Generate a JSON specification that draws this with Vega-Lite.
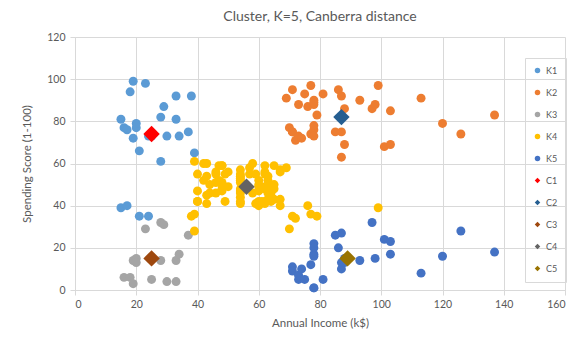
{
  "$schema": "https://vega.github.io/schema/vega-lite/v6.json",
  "autosize": {"type": "none"},
  "width": 490,
  "height": 253,
  "padding": {"left": 75, "top": 37, "right": 11, "bottom": 50},
  "background": "white",
  "title": {"text": "Cluster, K=5, Canberra distance", "font": "Lato", "fontSize": 14, "fontWeight": "normal", "color": "#595959", "anchor": "middle", "offset": 8},
  "config": {
    "view": {"stroke": null},
    "axis": {"labelFont": "Lato", "titleFont": "Lato", "labelColor": "#595959", "titleColor": "#595959", "labelFontSize": 10.5, "titleFontSize": 11.5, "titleFontWeight": "normal", "gridColor": "#D9D9D9", "domainColor": "#D9D9D9", "tickColor": "#D9D9D9", "tickSize": 5},
    "legend": {"labelFont": "Lato", "labelColor": "#595959"}
  },
  "datasets": {
    "pts": [
      {"x":15,"y":39,"s":"K1"},{"x":15,"y":81,"s":"K1"},{"x":16,"y":77,"s":"K1"},{"x":17,"y":40,"s":"K1"},{"x":17,"y":76,"s":"K1"},{"x":18,"y":94,"s":"K1"},{"x":19,"y":72,"s":"K1"},{"x":19,"y":99,"s":"K1"},{"x":20,"y":77,"s":"K1"},{"x":20,"y":79,"s":"K1"},{"x":21,"y":35,"s":"K1"},{"x":21,"y":66,"s":"K1"},{"x":23,"y":98,"s":"K1"},{"x":24,"y":35,"s":"K1"},{"x":24,"y":73,"s":"K1"},{"x":25,"y":73,"s":"K1"},{"x":28,"y":82,"s":"K1"},{"x":28,"y":61,"s":"K1"},{"x":29,"y":87,"s":"K1"},{"x":30,"y":73,"s":"K1"},{"x":33,"y":92,"s":"K1"},{"x":33,"y":81,"s":"K1"},{"x":34,"y":73,"s":"K1"},{"x":37,"y":75,"s":"K1"},{"x":38,"y":92,"s":"K1"},{"x":39,"y":65,"s":"K1"},
      {"x":69,"y":91,"s":"K2"},{"x":70,"y":77,"s":"K2"},{"x":71,"y":95,"s":"K2"},{"x":71,"y":75,"s":"K2"},{"x":71,"y":75,"s":"K2"},{"x":72,"y":71,"s":"K2"},{"x":73,"y":88,"s":"K2"},{"x":73,"y":73,"s":"K2"},{"x":74,"y":72,"s":"K2"},{"x":75,"y":93,"s":"K2"},{"x":76,"y":87,"s":"K2"},{"x":77,"y":97,"s":"K2"},{"x":77,"y":74,"s":"K2"},{"x":78,"y":90,"s":"K2"},{"x":78,"y":88,"s":"K2"},{"x":78,"y":76,"s":"K2"},{"x":78,"y":89,"s":"K2"},{"x":78,"y":78,"s":"K2"},{"x":78,"y":73,"s":"K2"},{"x":79,"y":83,"s":"K2"},{"x":81,"y":93,"s":"K2"},{"x":85,"y":75,"s":"K2"},{"x":86,"y":95,"s":"K2"},{"x":87,"y":63,"s":"K2"},{"x":87,"y":75,"s":"K2"},{"x":87,"y":92,"s":"K2"},{"x":88,"y":86,"s":"K2"},{"x":88,"y":69,"s":"K2"},{"x":93,"y":90,"s":"K2"},{"x":97,"y":86,"s":"K2"},{"x":98,"y":88,"s":"K2"},{"x":99,"y":97,"s":"K2"},{"x":101,"y":68,"s":"K2"},{"x":103,"y":85,"s":"K2"},{"x":103,"y":69,"s":"K2"},{"x":113,"y":91,"s":"K2"},{"x":120,"y":79,"s":"K2"},{"x":126,"y":74,"s":"K2"},{"x":137,"y":83,"s":"K2"},
      {"x":16,"y":6,"s":"K3"},{"x":18,"y":6,"s":"K3"},{"x":19,"y":3,"s":"K3"},{"x":19,"y":14,"s":"K3"},{"x":20,"y":15,"s":"K3"},{"x":20,"y":13,"s":"K3"},{"x":23,"y":29,"s":"K3"},{"x":25,"y":5,"s":"K3"},{"x":28,"y":14,"s":"K3"},{"x":28,"y":32,"s":"K3"},{"x":29,"y":31,"s":"K3"},{"x":30,"y":4,"s":"K3"},{"x":33,"y":4,"s":"K3"},{"x":33,"y":14,"s":"K3"},{"x":34,"y":17,"s":"K3"},{"x":37,"y":26,"s":"K3"},
      {"x":38,"y":35,"s":"K4"},{"x":39,"y":36,"s":"K4"},{"x":39,"y":61,"s":"K4"},{"x":39,"y":28,"s":"K4"},{"x":40,"y":55,"s":"K4"},{"x":40,"y":47,"s":"K4"},{"x":40,"y":42,"s":"K4"},{"x":40,"y":42,"s":"K4"},{"x":42,"y":52,"s":"K4"},{"x":42,"y":60,"s":"K4"},{"x":43,"y":54,"s":"K4"},{"x":43,"y":60,"s":"K4"},{"x":43,"y":45,"s":"K4"},{"x":43,"y":41,"s":"K4"},{"x":44,"y":50,"s":"K4"},{"x":44,"y":46,"s":"K4"},{"x":46,"y":51,"s":"K4"},{"x":46,"y":46,"s":"K4"},{"x":46,"y":56,"s":"K4"},{"x":46,"y":55,"s":"K4"},{"x":47,"y":52,"s":"K4"},{"x":47,"y":59,"s":"K4"},{"x":48,"y":51,"s":"K4"},{"x":48,"y":59,"s":"K4"},{"x":48,"y":50,"s":"K4"},{"x":48,"y":48,"s":"K4"},{"x":48,"y":59,"s":"K4"},{"x":48,"y":47,"s":"K4"},{"x":49,"y":55,"s":"K4"},{"x":49,"y":42,"s":"K4"},{"x":50,"y":49,"s":"K4"},{"x":50,"y":56,"s":"K4"},{"x":54,"y":47,"s":"K4"},{"x":54,"y":54,"s":"K4"},{"x":54,"y":53,"s":"K4"},{"x":54,"y":48,"s":"K4"},{"x":54,"y":52,"s":"K4"},{"x":54,"y":42,"s":"K4"},{"x":54,"y":51,"s":"K4"},{"x":54,"y":55,"s":"K4"},{"x":54,"y":41,"s":"K4"},{"x":54,"y":44,"s":"K4"},{"x":54,"y":57,"s":"K4"},{"x":54,"y":46,"s":"K4"},{"x":57,"y":58,"s":"K4"},{"x":57,"y":55,"s":"K4"},{"x":58,"y":60,"s":"K4"},{"x":58,"y":46,"s":"K4"},{"x":59,"y":55,"s":"K4"},{"x":59,"y":41,"s":"K4"},{"x":60,"y":49,"s":"K4"},{"x":60,"y":40,"s":"K4"},{"x":60,"y":42,"s":"K4"},{"x":60,"y":52,"s":"K4"},{"x":60,"y":47,"s":"K4"},{"x":60,"y":50,"s":"K4"},{"x":61,"y":42,"s":"K4"},{"x":61,"y":49,"s":"K4"},{"x":62,"y":41,"s":"K4"},{"x":62,"y":48,"s":"K4"},{"x":62,"y":59,"s":"K4"},{"x":62,"y":55,"s":"K4"},{"x":62,"y":56,"s":"K4"},{"x":62,"y":42,"s":"K4"},{"x":63,"y":50,"s":"K4"},{"x":63,"y":46,"s":"K4"},{"x":63,"y":43,"s":"K4"},{"x":63,"y":48,"s":"K4"},{"x":63,"y":52,"s":"K4"},{"x":63,"y":54,"s":"K4"},{"x":64,"y":42,"s":"K4"},{"x":64,"y":46,"s":"K4"},{"x":65,"y":48,"s":"K4"},{"x":65,"y":50,"s":"K4"},{"x":65,"y":43,"s":"K4"},{"x":65,"y":59,"s":"K4"},{"x":67,"y":43,"s":"K4"},{"x":67,"y":57,"s":"K4"},{"x":67,"y":56,"s":"K4"},{"x":67,"y":40,"s":"K4"},{"x":69,"y":58,"s":"K4"},{"x":70,"y":29,"s":"K4"},{"x":71,"y":35,"s":"K4"},{"x":72,"y":34,"s":"K4"},{"x":76,"y":40,"s":"K4"},{"x":77,"y":36,"s":"K4"},{"x":79,"y":35,"s":"K4"},{"x":99,"y":39,"s":"K4"},
      {"x":71,"y":11,"s":"K5"},{"x":71,"y":9,"s":"K5"},{"x":73,"y":5,"s":"K5"},{"x":73,"y":7,"s":"K5"},{"x":74,"y":10,"s":"K5"},{"x":75,"y":5,"s":"K5"},{"x":77,"y":12,"s":"K5"},{"x":78,"y":22,"s":"K5"},{"x":78,"y":17,"s":"K5"},{"x":78,"y":20,"s":"K5"},{"x":78,"y":16,"s":"K5"},{"x":78,"y":1,"s":"K5"},{"x":78,"y":1,"s":"K5"},{"x":81,"y":5,"s":"K5"},{"x":85,"y":26,"s":"K5"},{"x":86,"y":20,"s":"K5"},{"x":87,"y":27,"s":"K5"},{"x":87,"y":13,"s":"K5"},{"x":87,"y":10,"s":"K5"},{"x":88,"y":13,"s":"K5"},{"x":88,"y":15,"s":"K5"},{"x":93,"y":14,"s":"K5"},{"x":97,"y":32,"s":"K5"},{"x":98,"y":15,"s":"K5"},{"x":101,"y":24,"s":"K5"},{"x":103,"y":17,"s":"K5"},{"x":103,"y":23,"s":"K5"},{"x":113,"y":8,"s":"K5"},{"x":120,"y":16,"s":"K5"},{"x":126,"y":28,"s":"K5"},{"x":137,"y":18,"s":"K5"}
    ],
    "cents": [
      {"x":25,"y":74,"s":"C1"},{"x":87,"y":82,"s":"C2"},{"x":25,"y":15,"s":"C3"},{"x":56,"y":49,"s":"C4"},{"x":89,"y":15,"s":"C5"}
    ]
  },
  "encoding": {
    "x": {"field": "x", "type": "quantitative", "title": "Annual Income (k$)", "scale": {"domain": [0, 160], "nice": false, "zero": true}, "axis": {"values": [0,20,40,60,80,100,120,140,160], "titlePadding": 8, "labelPadding": 4}},
    "y": {"field": "y", "type": "quantitative", "title": "Spending Score (1-100)", "scale": {"domain": [0, 120], "nice": false}, "axis": {"values": [0,20,40,60,80,100,120], "titlePadding": 14, "labelPadding": 5}},
    "color": {"field": "s", "type": "nominal", "title": null,
      "scale": {"domain": ["K1","K2","K3","K4","K5","C1","C2","C3","C4","C5"], "range": ["#5B9BD5","#ED7D31","#A5A5A5","#FFC000","#4472C4","#FF0000","#255E91","#9E480E","#636363","#997300"]},
      "legend": {"orient": "none", "legendX": 450, "legendY": 21, "strokeColor": "#D9D9D9", "padding": 8, "symbolSize": 30, "labelFontSize": 9, "rowPadding": 12, "labelOffset": 4, "symbolStrokeWidth": 0}},
    "shape": {"field": "s", "type": "nominal", "title": null,
      "scale": {"domain": ["K1","K2","K3","K4","K5","C1","C2","C3","C4","C5"], "range": ["circle","circle","circle","circle","circle","diamond","diamond","diamond","diamond","diamond"]}}
  },
  "layer": [
    {"data": {"name": "pts"}, "mark": {"type": "point", "filled": true, "opacity": 1, "size": 80}},
    {"data": {"name": "cents"}, "mark": {"type": "point", "filled": true, "opacity": 1, "size": 270}}
  ]
}
